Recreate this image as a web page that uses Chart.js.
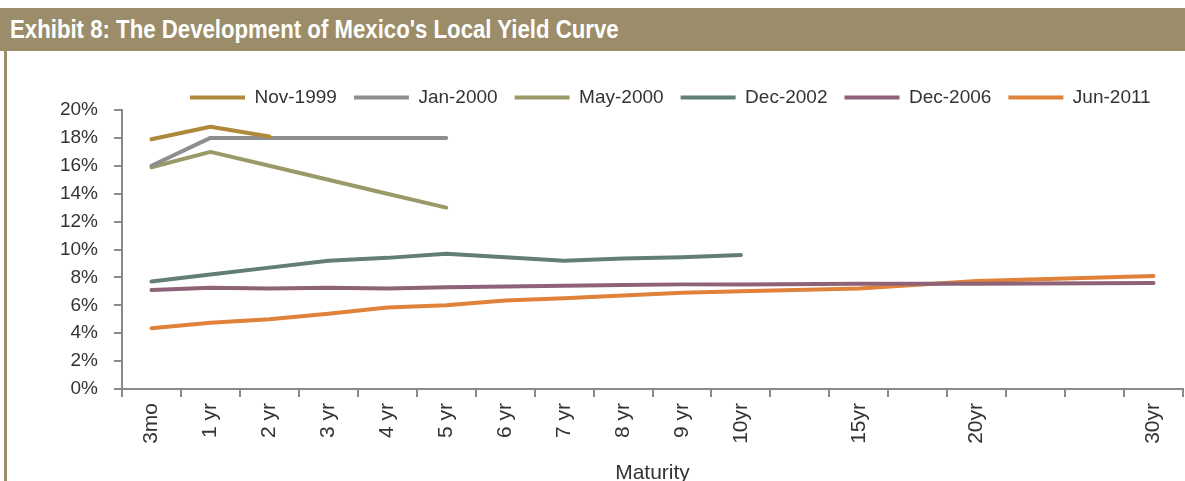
<!DOCTYPE html>
<html>
<head>
<meta charset="utf-8">
<script src="https://cdn.jsdelivr.net/npm/chart.js@4.4.1/dist/chart.umd.min.js"></script>
<style>
  html, body { margin: 0; padding: 0; background: #fff; overflow: hidden; }
  body { width: 1185px; height: 481px; position: relative; font-family: "Liberation Sans", Arial, sans-serif; }
  #band { position: absolute; left: 0; top: 8px; width: 1185px; height: 43px; background: #9C8D6A; }
  #band span { position: absolute; left: 10px; top: 6px; color: #fff; font-size: 26px; font-weight: bold; white-space: nowrap; transform: scaleX(0.854); transform-origin: left center; }
  #edge { position: absolute; left: 4px; top: 51px; width: 3px; height: 430px; background: #9C8D6A; }
  #wrap { position: absolute; left: 10px; top: 52px; width: 1175px; height: 440px; }
</style>
</head>
<body>
<div id="band"><span>Exhibit 8: The Development of Mexico's Local Yield Curve</span></div>
<div id="edge"></div>
<div id="wrap"><canvas id="chart"></canvas></div>
<script>
// maturities, blanks keep the spacing of the long end
const maturities = ['3mo', '1 yr', '2 yr', '3 yr', '4 yr', '5 yr', '6 yr', '7 yr', '8 yr', '9 yr', '10yr', '', '15yr', '', '20yr', '', '', '30yr'];

const nov1999 = [17.9, 18.8, 18.1];
const jan2000 = [16.0, 18.0, 18.0, 18.0, 18.0, 18.0];
const may2000 = [15.9, 17.0, 16.0, 15.0, 14.0, 13.0];
const dec2002 = [7.7, 8.2, 8.7, 9.2, 9.4, 9.7, 9.45, 9.2, 9.35, 9.45, 9.6];
const dec2006 = [7.1, 7.25, 7.2, 7.25, 7.2, 7.3, 7.35, 7.4, 7.45, 7.5, 7.5, null, 7.55, null, 7.55, null, null, 7.6];
const jun2011 = [4.35, 4.75, 5.0, 5.4, 5.85, 6.0, 6.35, 6.5, 6.7, 6.9, 7.0, null, 7.2, null, 7.75, null, null, 8.1];

const yTicks = [0, 2, 4, 6, 8, 10, 12, 14, 16, 18, 20];

function serie(label, data, color) {
    return {
        label: label,
        data: data,
        borderColor: color,
        backgroundColor: color,
        borderWidth: 4,
        borderCapStyle: 'round',
        borderJoinStyle: 'round',
        pointRadius: 0,
        pointHoverRadius: 0,
        tension: 0,
        spanGaps: true
    };
}

// moves the legend row to where it sits in the exhibit
const legendShift = {
    id: 'legendShift',
    afterLayout(chart) {
        const lg = chart.legend;
        const w = lg.right - lg.left;
        lg.left = 163;
        lg.right = 163 + w;
        lg.top += 7;
        lg.bottom += 7;
    }
};

const txt = '#333333';
const axisGray = '#8a8a8a';
const fam = '"Liberation Sans", Arial, sans-serif';

new Chart(document.getElementById('chart'), {
    type: 'line',
    data: {
        labels: maturities,
        datasets: [
            serie('Nov-1999', nov1999, '#B0883A'),
            serie('Jan-2000', jan2000, '#8E8E8E'),
            serie('May-2000', may2000, '#9A9A68'),
            serie('Dec-2002', dec2002, '#627F72'),
            serie('Dec-2006', dec2006, '#8E6377'),
            serie('Jun-2011', jun2011, '#E0823A')
        ]
    },
    options: {
        responsive: true,
        maintainAspectRatio: false,
        animation: false,
        layout: { padding: { top: 12, right: 2, bottom: 0, left: 0 } },
        plugins: {
            legend: {
                position: 'top',
                align: 'start',
                labels: {
                    usePointStyle: true,
                    pointStyle: 'line',
                    pointStyleWidth: 55,
                    boxHeight: 4,
                    padding: 17,
                    color: txt,
                    font: { family: fam, size: 19 }
                }
            },
            tooltip: { enabled: false }
        },
        scales: {
            x: {
                offset: true,
                grid: { offset: true, drawOnChartArea: false, drawTicks: true, tickLength: 8, color: axisGray, lineWidth: 2 },
                border: { display: true, color: axisGray, width: 2 },
                ticks: {
                    autoSkip: false,
                    minRotation: 90,
                    maxRotation: 90,
                    padding: 6,
                    color: txt,
                    font: { family: fam, size: 21 }
                },
                title: {
                    display: true,
                    text: 'Maturity',
                    color: txt,
                    padding: { top: 2, bottom: 6 },
                    font: { family: fam, size: 21 }
                },
                afterFit(scale) { scale.height = 103; }
            },
            y: {
                min: 0,
                max: 20,
                afterBuildTicks(scale) { scale.ticks = yTicks.map(v => ({ value: v })); },
                grid: { drawOnChartArea: false, drawTicks: true, tickLength: 8, color: axisGray, lineWidth: 2 },
                border: { display: true, color: axisGray, width: 2 },
                ticks: {
                    autoSkip: false,
                    padding: 16,
                    color: txt,
                    font: { family: fam, size: 19 },
                    callback: v => v + '%'
                },
                afterFit(scale) { scale.width = 112; }
            }
        }
    },
    plugins: [legendShift]
});
</script>
</body>
</html>
